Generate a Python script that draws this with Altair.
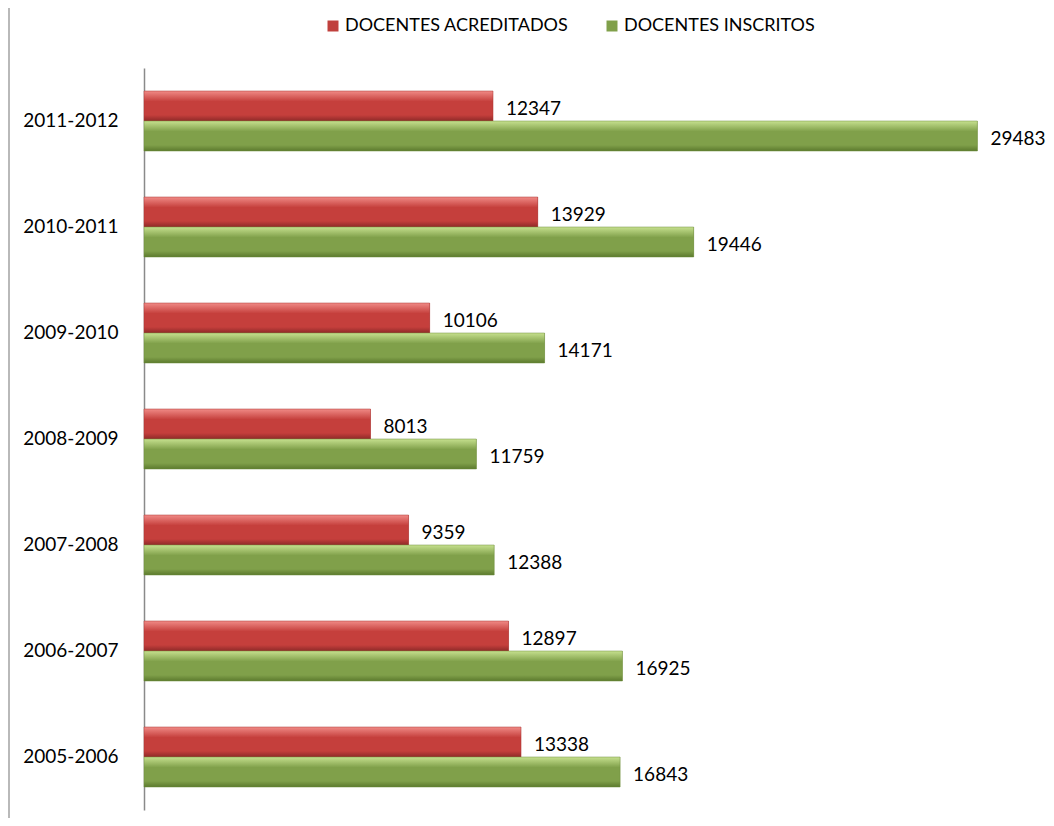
import altair as alt
import pandas as pd

periods = ["2011-2012", "2010-2011", "2009-2010", "2008-2009", "2007-2008", "2006-2007", "2005-2006"]
acreditados = [12347, 13929, 10106, 8013, 9359, 12897, 13338]
inscritos = [29483, 19446, 14171, 11759, 12388, 16925, 16843]
series = ["DOCENTES ACREDITADOS", "DOCENTES INSCRITOS"]
colors = ["#C0403D", "#80A04A"]

rows = []
for p, a, i in zip(periods, acreditados, inscritos):
    rows.append({"period": p, "series": series[0], "value": a})
    rows.append({"period": p, "series": series[1], "value": i})
df = pd.DataFrame(rows)

FONT = "Lato"

y_enc = alt.Y("period:N", sort=periods, title=None,
              scale=alt.Scale(paddingInner=0.434, paddingOuter=0.217),
              axis=alt.Axis(ticks=False, labelFontSize=19, labelFont=FONT, labelColor="#000000",
                            domainColor="#8a8a8a", domainWidth=1.5, labelPadding=26))
x_enc = alt.X("value:Q", scale=alt.Scale(domain=[0, 30000], nice=False), axis=None)
yoff = alt.YOffset("series:N", sort=series, scale=alt.Scale(paddingInner=0, paddingOuter=0))

base = alt.Chart(df)

bars = base.mark_bar(size=30).encode(
    x=x_enc, y=y_enc, yOffset=yoff,
    color=alt.Color("series:N", scale=alt.Scale(domain=series, range=colors),
                    legend=alt.Legend(title=None, orient="none", legendX=180, legendY=-51,
                                      direction="horizontal", symbolType="square",
                                      symbolSize=121, symbolStrokeWidth=0,
                                      labelFontSize=18, labelFont=FONT, labelColor="#000000",
                                      labelLimit=0, columnPadding=34, labelOffset=3)),
)

def grad(top, mid, bottom):
    return alt.Gradient(gradient="linear", x1=0, x2=0, y1=0, y2=1,
                        stops=[alt.GradientStop(color=top, offset=0),
                               alt.GradientStop(color=mid, offset=0.35),
                               alt.GradientStop(color=mid, offset=0.8),
                               alt.GradientStop(color=bottom, offset=1)])

red_g = base.transform_filter(alt.datum.series == series[0]).mark_bar(
    fill=grad("#F08A86", "#C53F3C", "#8E2A28"), stroke="#A83432", strokeWidth=0.5
).encode(x=x_enc, y=y_enc, yOffset=yoff)

green_g = base.transform_filter(alt.datum.series == series[1]).mark_bar(
    fill=grad("#C6E08E", "#80A04A", "#5C7A2E"), stroke="#6E8C3C", strokeWidth=0.5
).encode(x=x_enc, y=y_enc, yOffset=yoff)

labels = base.mark_text(align="left", baseline="middle", dx=13, dy=3,
                        fontSize=19, font=FONT, color="#000000").encode(
    x=x_enc, y=y_enc, yOffset=yoff, text=alt.Text("value:Q", format="d"))

frame = alt.Chart(pd.DataFrame({"a": [0]})).mark_rule(color="#8a8a8a", strokeWidth=1.2).encode(
    x=alt.value(-135), y=alt.value(-60), y2=alt.value(760))

chart = alt.layer(frame, bars, red_g, green_g, labels).properties(
    width=848, height=742,
    autosize=alt.AutoSizeParams(type="none"),
    padding={"left": 136, "top": 60, "right": 54, "bottom": 8},
).configure_view(stroke=None)

chart.save("out.html", embed_options={"renderer": "svg", "actions": False})
